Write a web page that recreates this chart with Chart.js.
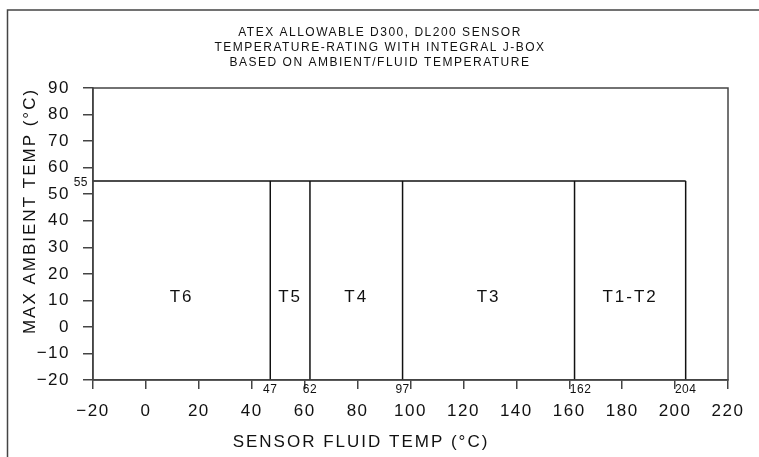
<!DOCTYPE html>
<html>
<head>
<meta charset="utf-8">
<script src="https://cdn.jsdelivr.net/npm/chart.js@4.4.1/dist/chart.umd.min.js"></script>
<style>
    html, body { margin: 0; padding: 0; background: #fff; }
    #chart { display: block; }
</style>
</head>
<body>
<canvas id="chart" width="759" height="457"></canvas>
<script>
const titleLines = [
    "ATEX ALLOWABLE D300, DL200 SENSOR",
    "TEMPERATURE-RATING WITH INTEGRAL J-BOX",
    "BASED ON AMBIENT/FLUID TEMPERATURE"
];
const xTitle = "SENSOR FLUID TEMP (°C)";
const yTitle = "MAX AMBIENT TEMP (°C)";

const xTicks = [-20, 0, 20, 40, 60, 80, 100, 120, 140, 160, 180, 200, 220];
const yTicks = [-20, -10, 0, 10, 20, 30, 40, 50, 60, 70, 80, 90];

// temperature classes and the max fluid temp of each
const zoneNames = ["T6", "T5", "T4", "T3", "T1-T2"];
const zoneLimits = [47, 62, 97, 162, 204];
const fluidMin = -20;
const ambientMin = -20;
const maxAmbient = 55;
const zoneLabelAmbient = 11;

const ink = "#111";
const frame = "#444";

// ceiling line plus the vertical boundary of each zone
const datasets = [{
    data: [{ x: fluidMin, y: maxAmbient }, { x: zoneLimits[zoneLimits.length - 1], y: maxAmbient }]
}].concat(zoneLimits.map(limit => ({
    data: [{ x: limit, y: ambientMin }, { x: limit, y: maxAmbient }]
}))).map(ds => Object.assign(ds, {
    showLine: true,
    borderColor: ink,
    borderWidth: 1.5,
    pointRadius: 0,
    fill: false
}));

function minus(v) {
    return String(v).replace("-", "\u2212");
}

const labelsPlugin = {
    id: "labels",
    beforeDraw(chart) {
        chart.ctx.letterSpacing = "1.5px";
    },
    afterDraw(chart) {
        const ctx = chart.ctx;
        const area = chart.chartArea;
        const x = chart.scales.x;
        const y = chart.scales.y;

        ctx.save();
        // outer drawing frame
        ctx.strokeStyle = frame;
        ctx.lineWidth = 1.5;
        ctx.beginPath();
        ctx.moveTo(7.5, chart.height);
        ctx.lineTo(7.5, 10);
        ctx.lineTo(chart.width, 10);
        ctx.stroke();

        // plot box
        ctx.strokeRect(area.left, area.top, area.right - area.left, area.bottom - area.top);

        ctx.fillStyle = ink;
        ctx.textAlign = "center";
        ctx.textBaseline = "middle";

        // title
        ctx.font = "12px 'Liberation Sans'";
        ctx.letterSpacing = "1.5px";
        titleLines.forEach((line, i) => ctx.fillText(line, 380, 33 + i * 15));

        // zone names
        ctx.font = "17px 'Liberation Sans'";
        ctx.letterSpacing = "2px";
        let left = fluidMin;
        zoneLimits.forEach((limit, i) => {
            const cx = (x.getPixelForValue(left) + x.getPixelForValue(limit)) / 2;
            ctx.fillText(zoneNames[i], cx, y.getPixelForValue(zoneLabelAmbient));
            left = limit;
        });

        // small values under the axis
        ctx.font = "12px 'Liberation Sans'";
        ctx.letterSpacing = "0.5px";
        zoneLimits.forEach(limit => {
            const nudge = limit === 162 ? 6 : 0;
            ctx.fillText(String(limit), x.getPixelForValue(limit) + nudge, 390);
        });
        ctx.textAlign = "right";
        ctx.fillText(String(maxAmbient), area.left - 5, y.getPixelForValue(maxAmbient) + 1.5);

        // axis titles
        ctx.textAlign = "center";
        ctx.font = "17px 'Liberation Sans'";
        ctx.letterSpacing = "2px";
        ctx.fillText(xTitle, 361, 442);
        ctx.translate(30, 211);
        ctx.rotate(-Math.PI / 2);
        ctx.fillText(yTitle, 0, 0);
        ctx.restore();
    }
};

new Chart(document.getElementById("chart"), {
    type: "scatter",
    data: { datasets: datasets },
    options: {
        responsive: false,
        animation: false,
        layout: { padding: { left: 0, top: 88, right: 31, bottom: 0 } },
        plugins: {
            legend: { display: false },
            tooltip: { enabled: false }
        },
        scales: {
            x: {
                type: "linear",
                min: fluidMin,
                max: 220,
                afterBuildTicks: s => { s.ticks = xTicks.map(v => ({ value: v })); },
                afterFit: s => { s.height = 77; },
                grid: { drawOnChartArea: false, tickLength: 9, color: frame, lineWidth: 1.5 },
                border: { color: frame, width: 1.5 },
                ticks: {
                    color: ink,
                    padding: 12,
                    font: { family: "'Liberation Sans'", size: 17 },
                    callback: v => minus(v)
                }
            },
            y: {
                type: "linear",
                min: ambientMin,
                max: 90,
                afterBuildTicks: s => { s.ticks = yTicks.map(v => ({ value: v })); },
                afterFit: s => { s.width = 93; },
                grid: { drawOnChartArea: false, tickLength: 10, color: frame, lineWidth: 1.5 },
                border: { color: frame, width: 1.5 },
                ticks: {
                    color: ink,
                    padding: 13,
                    font: { family: "'Liberation Sans'", size: 17 },
                    callback: v => minus(v)
                }
            }
        }
    },
    plugins: [labelsPlugin]
});
</script>
</body>
</html>
